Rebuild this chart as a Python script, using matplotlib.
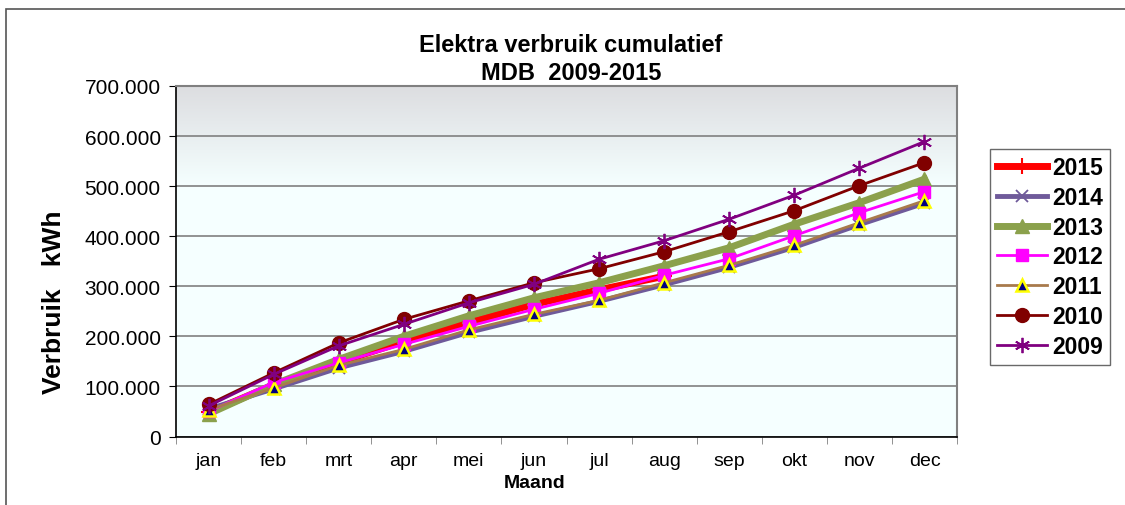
import numpy as np
import matplotlib.pyplot as plt
from matplotlib.ticker import FuncFormatter, MultipleLocator, FixedLocator
from matplotlib.patches import Rectangle

plt.rcParams["font.family"] = ["Liberation Sans", "DejaVu Sans"]

months = ["jan", "feb", "mrt", "apr", "mei", "jun", "jul", "aug", "sep", "okt", "nov", "dec"]

y2015 = [48000, 103000, 148000, 190000, 228000, 264000, 293000, 320000]
y2014 = [55000, 95000, 137000, 170000, 208000, 240000, 270000, 303000, 338000, 378000, 423000, 466000]
y2013 = [45000, 104000, 154000, 200000, 241000, 277000, 307000, 341000, 377000, 424000, 467000, 514000]
y2012 = [50000, 108000, 147000, 184000, 220000, 254000, 286000, 322000, 355000, 401000, 447000, 489000]
y2011 = [53000, 97000, 142000, 174000, 213000, 244000, 272000, 307000, 342000, 382000, 427000, 471000]
y2010 = [64000, 127000, 187000, 234000, 271000, 307000, 335000, 369000, 409000, 451000, 501000, 547000]
y2009 = [61000, 124000, 181000, 224000, 267000, 304000, 354000, 391000, 434000, 482000, 536000, 589000]

W, H = 1125, 506
fig = plt.figure(figsize=(W / 100, H / 100), dpi=100)

# outer chart frame (only left and top visible)
fig.add_artist(Rectangle((6 / W, -0.1), 1.2, 1 - 10 / H + 0.1, transform=fig.transFigure,
                         fill=False, edgecolor="#555555", lw=1.2))

ax = fig.add_axes([176 / W, 1 - 437.5 / H, 781 / W, 350.5 / H])
ax.set_facecolor("#f5ffff")

# gradient at the top of the plot area
grad = np.linspace(0, 1, 100).reshape(-1, 1)
top = np.array([0xdc, 0xdd, 0xe0]) / 255
bot = np.array([0xf5, 0xff, 0xff]) / 255
img = top[None, None, :] * (1 - grad[:, :, None]) + bot[None, None, :] * grad[:, :, None]
ax.imshow(img, extent=(-0.5, 11.5, 500000, 700000), aspect="auto", origin="upper", zorder=0)

x = np.arange(len(months))

ax.plot(x[:len(y2015)], y2015, color="#ff0000", lw=5, marker="+", ms=12, mew=1.5, label="2015", zorder=3)
ax.plot(x, y2014, color="#6f5a9a", lw=3.5, marker="x", ms=8, mew=1.3, label="2014", zorder=3)
ax.plot(x, y2013, color="#8ba14c", lw=5, marker="^", ms=10, label="2013", zorder=3)
ax.plot(x, y2012, color="#ff00ff", lw=2, marker="s", ms=9, label="2012", zorder=3)
ax.plot(x, y2011, color="#a87a4c", lw=2, marker="^", ms=9, mfc="#000080", mec="#ffff00", mew=1.8,
        label="2011", zorder=3)
ax.plot(x, y2010, color="#800000", lw=2, marker="o", ms=10, label="2010", zorder=3)
ax.plot(x, y2009, color="#800080", lw=2, marker=(6, 2, 0), ms=11, mew=1.3, label="2009", zorder=3)

ax.set_xlim(-0.5, 11.5)
ax.set_ylim(0, 700000)
ax.yaxis.set_major_locator(MultipleLocator(100000))
ax.yaxis.set_major_formatter(FuncFormatter(lambda v, p: f"{int(v):,}".replace(",", ".")))
ax.grid(axis="y", color="#808080", lw=1.2)
ax.set_axisbelow(True)

ax.set_xticks(x)
ax.set_xticklabels(months, fontsize=14)
ax.xaxis.set_minor_locator(FixedLocator(np.arange(-0.5, 12, 1)))
ax.tick_params(axis="x", which="major", length=0, pad=11)
ax.tick_params(axis="x", which="minor", length=5, color="#808080")
ax.tick_params(axis="y", labelsize=15, length=5, pad=6)

for s in ["left", "bottom"]:
    ax.spines[s].set_color("black")
    ax.spines[s].set_linewidth(1.2)
for s in ["top", "right"]:
    ax.spines[s].set_color("#808080")
    ax.spines[s].set_linewidth(1.5)

# axis titles placed like the original chart
fig.text(54 / W, 1 - 302 / H, "Verbruik   kWh", rotation=90, ha="center", va="center",
         fontsize=19, fontweight="bold")
fig.text(535 / W, 1 - 484 / H, "Maand", ha="center", va="center", fontsize=14, fontweight="bold")

fig.text(571 / W, 1 - 45 / H, "Elektra verbruik cumulatief", ha="center", va="center",
         fontsize=17, fontweight="bold")
fig.text(571 / W, 1 - 73 / H, "MDB  2009-2015", ha="center", va="center",
         fontsize=17, fontweight="bold")

leg = fig.legend(loc="upper left", bbox_to_anchor=(990 / W, 1 - 150 / H),
                 prop={"weight": "bold", "size": 16.5}, frameon=True, fancybox=False,
                 handlelength=2.2, handletextpad=0.2, labelspacing=0.3, borderpad=0.3,
                 borderaxespad=0)
leg.get_frame().set_edgecolor("#444444")
leg.get_frame().set_linewidth(1.0)

fig.savefig("out.png", dpi=100)
